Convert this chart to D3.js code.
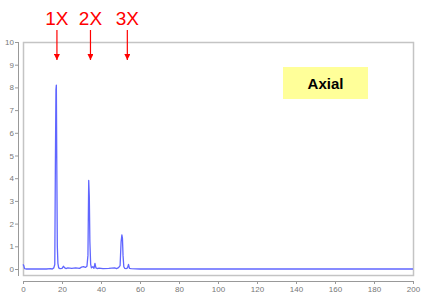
<!DOCTYPE html>
<html>
<head>
<meta charset="utf-8">
<script src="https://cdn.jsdelivr.net/npm/d3@7"></script>
<style>
  body { margin: 0; background: #fff; }
  svg { display: block; }
</style>
</head>
<body>
<div id="chart"></div>
<script>
// spectrum (frequency, amplitude)
const freq = [0, 0.4, 0.8, 1.5, 4, 8, 12, 14, 15, 15.8, 16.3, 16.6, 16.9, 17.1, 17.3, 17.6, 17.9, 18.3, 19, 20, 20.7, 21.4, 22, 23, 25, 27, 29, 30, 31, 32, 32.8, 33.3, 33.7, 34.0, 34.3, 34.7, 35.1, 35.8, 36.4, 36.9, 37.4, 38, 39, 41, 44, 47, 48, 49, 49.8, 50.3, 50.7, 51.0, 51.3, 51.7, 52.2, 53, 53.6, 54.1, 54.6, 55.5, 60, 70, 80, 90, 100, 120, 140, 160, 180, 200];
const amp  = [0.2, 0.15, 0.02, 0.0, 0.0, 0.0, 0.0, 0.02, 0.0, 0.05, 0.2, 4.5, 7.9, 8.1, 5.0, 1.0, 0.25, 0.05, 0.02, 0.03, 0.12, 0.05, 0.02, 0.05, 0.03, 0.05, 0.03, 0.08, 0.1, 0.07, 0.12, 0.6, 3.9, 3.2, 1.2, 0.2, 0.05, 0.1, 0.03, 0.25, 0.05, 0.02, 0.04, 0.02, 0.03, 0.05, 0.02, 0.06, 0.15, 1.2, 1.5, 1.35, 0.6, 0.1, 0.03, 0.02, 0.05, 0.2, 0.03, 0.02, 0.0, 0.0, 0.0, 0.0, 0.0, 0.0, 0.0, 0.0, 0.0, 0.0];

const xTicks = [0, 20, 40, 60, 80, 100, 120, 140, 160, 180, 200];
const yTicks = [0, 1, 2, 3, 4, 5, 6, 7, 8, 9, 10];

const orders = ["1X", "2X", "3X"];
const orderFreq = [17.4, 34.6, 53.5];
const label = "Axial";

const W = 429, H = 302;
const svg = d3.select("#chart").append("svg")
  .attr("width", W)
  .attr("height", H);

const x = d3.scaleLinear().domain([0, 200]).range([23, 413]);
const y = d3.scaleLinear().domain([0, 10]).range([269, 42]);

// plot frame
svg.append("rect")
  .attr("x", 23.5).attr("y", 42.5)
  .attr("width", 390).attr("height", 233)
  .attr("fill", "#fff")
  .attr("stroke", "#c4c4c4")
  .attr("stroke-width", 1.5);

// y axis
const yAxis = svg.append("g")
  .attr("transform", "translate(18,0)")
  .call(d3.axisLeft(y).tickValues(yTicks).tickSize(3).tickSizeOuter(0));
yAxis.select(".domain").attr("stroke", "#999").attr("d", "M0.5,42V276");

// x axis
const xAxis = svg.append("g")
  .attr("transform", "translate(0,281)")
  .call(d3.axisBottom(x).tickValues(xTicks).tickSize(3).tickSizeOuter(0));
xAxis.select(".domain").attr("stroke", "#999");

svg.selectAll(".tick line").attr("stroke", "#999");
svg.selectAll(".tick text")
  .attr("fill", "#777")
  .attr("font-family", "Liberation Sans, Arial, sans-serif")
  .attr("font-size", 8);
yAxis.selectAll(".tick text").attr("x", -4);
xAxis.selectAll(".tick text").attr("y", 5);

// spectrum
const line = d3.line()
  .x((d, i) => x(freq[i]))
  .y(d => y(d));

svg.append("path")
  .datum(amp)
  .attr("d", line)
  .attr("fill", "none")
  .attr("stroke", "#6066ff")
  .attr("stroke-width", 1.3)
  .attr("stroke-linejoin", "round");

// order markers
svg.append("defs").append("marker")
  .attr("id", "head")
  .attr("viewBox", "0 0 10 10")
  .attr("refX", 10).attr("refY", 5)
  .attr("markerWidth", 5).attr("markerHeight", 5)
  .attr("orient", "auto")
  .append("path")
  .attr("d", "M0,0L10,5L0,10Z")
  .attr("fill", "#ff0000");

const ord = svg.selectAll(".order")
  .data(orders)
  .enter().append("g")
  .attr("class", "order")
  .attr("transform", (d, i) => `translate(${x(orderFreq[i])},0)`);

ord.append("text")
  .attr("x", 0).attr("y", 25)
  .attr("text-anchor", "middle")
  .attr("font-family", "Liberation Sans, Arial, sans-serif")
  .attr("font-size", 19)
  .attr("fill", "#ff0000")
  .text(d => d);

ord.append("line")
  .attr("x1", 0).attr("x2", 0)
  .attr("y1", 30).attr("y2", 60)
  .attr("stroke", "#ff0000")
  .attr("stroke-width", 1.2)
  .attr("marker-end", "url(#head)");

// label box
svg.append("rect")
  .attr("x", 283).attr("y", 67)
  .attr("width", 85).attr("height", 32)
  .attr("fill", "#ffff99");

svg.append("text")
  .attr("x", 325.5).attr("y", 88.5)
  .attr("text-anchor", "middle")
  .attr("font-family", "Liberation Sans, Arial, sans-serif")
  .attr("font-weight", "bold")
  .attr("font-size", 15)
  .attr("fill", "#000")
  .text(label);
</script>
</body>
</html>
